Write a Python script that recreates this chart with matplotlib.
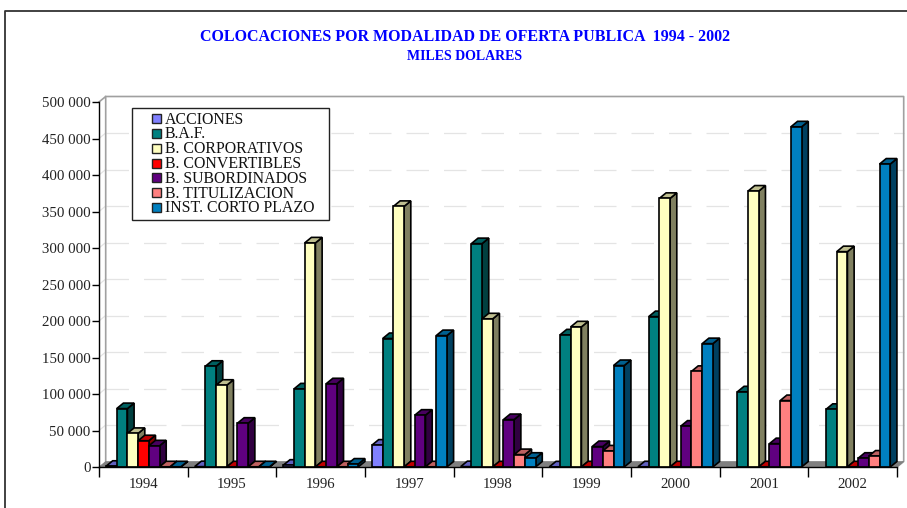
import matplotlib
matplotlib.use("Agg")
import matplotlib.pyplot as plt
from matplotlib.patches import Polygon, Rectangle
from matplotlib.lines import Line2D
from matplotlib.ticker import FuncFormatter

plt.rcParams['font.family'] = ['Liberation Serif', 'DejaVu Serif']

years = ['1994', '1995', '1996', '1997', '1998', '1999', '2000', '2001', '2002']
series_names = ['ACCIONES', 'B.A.F.', 'B. CORPORATIVOS', 'B. CONVERTIBLES',
                'B. SUBORDINADOS', 'B. TITULIZACION', 'INST. CORTO PLAZO']
acciones = [1000, 500, 2500, 30000, 500, 200, 300, None, None]
baf = [80000, 138000, 107000, 176000, 306000, 181000, 206000, 103000, 79000]
corporativos = [46000, 112000, 307000, 357000, 203000, 192000, 368000, 378000, 295000]
convertibles = [36000, 300, 300, 300, 300, 300, 300, 300, 300]
subordinados = [29000, 60000, 114000, 71000, 65000, 28000, 56000, 32000, 12000]
titulizacion = [300, 300, 300, 300, 17000, 22000, 131000, 91000, 15000]
corto_plazo = [300, 300, 4000, 180000, 12000, 139000, 169000, 466000, 415000]
all_series = [acciones, baf, corporativos, convertibles, subordinados, titulizacion, corto_plazo]

front = ['#8080FF', '#008080', '#FFFFC0', '#FF0000', '#600080', '#FF8080', '#0080C0']
top = ['#6060BF', '#006060', '#BFBF90', '#BF0000', '#480060', '#BF6060', '#006090']
side = ['#404080', '#004040', '#808060', '#800000', '#300040', '#804040', '#004060']

W, H = 907, 508
X0, X1, Y0, Y1 = 99, 897, 467, 102
fig = plt.figure(figsize=(W / 100, H / 100), dpi=100, facecolor='white')
ax = fig.add_axes([X0 / W, 1 - Y0 / H, (X1 - X0) / W, (Y0 - Y1) / H])
ax.set_xlim(0, 9)
ax.set_ylim(0, 500000)
ax.patch.set_visible(False)

ddx = 6.7 * 9 / (X1 - X0)
ddy = 5.5 * 500000 / (Y0 - Y1)

# outer frame
fig.add_artist(Line2D([5 / W, 5 / W, 1], [0, 1 - 11 / H, 1 - 11 / H], color='#333333', lw=1.3))

# gridlines on the back and side walls
yticks = list(range(0, 500001, 50000))
for v in yticks[1:-1]:
    ax.plot([ddx, 9 + ddx], [v + ddy, v + ddy], color='#e4e4e4', lw=0.9, clip_on=False, zorder=1,
            linestyle=(0, (18, 12)))
    ax.plot([0, ddx], [v, v + ddy], color='#e4e4e4', lw=0.9, clip_on=False, zorder=1)
# walls
ax.plot([0, ddx, ddx], [500000, 500000 + ddy, ddy], color='#a0a0a0', lw=1.2, clip_on=False, zorder=1.5)
ax.plot([ddx, 9 + ddx, 9 + ddx, 9], [500000 + ddy, 500000 + ddy, ddy, 0], color='#a0a0a0', lw=1.2, clip_on=False, zorder=1.5)
# floor
ax.add_patch(Polygon([(0, 0), (9, 0), (9 + ddx, ddy), (ddx, ddy)], closed=True,
                     fc='#808080', ec='#808080', lw=0.5, clip_on=False, zorder=2))

# bars
bw = 10.7 * 9 / (X1 - X0)
off = 7 * 9 / (X1 - X0)
z = 3.0
for g in range(len(years)):
    for s, vals in enumerate(all_series):
        v = vals[g]
        if v is None:
            continue
        x0 = g + off + s * bw
        x1 = x0 + bw
        kw = dict(closed=True, ec='black', lw=1.2, clip_on=False, joinstyle='miter')
        ax.add_patch(Polygon([(x1, 0), (x1 + ddx, ddy), (x1 + ddx, v + ddy), (x1, v)], fc=side[s], zorder=z, **kw))
        ax.add_patch(Polygon([(x0, v), (x1, v), (x1 + ddx, v + ddy), (x0 + ddx, v + ddy)], fc=top[s], zorder=z, **kw))
        ax.add_patch(Polygon([(x0, 0), (x1, 0), (x1, v), (x0, v)], fc=front[s], zorder=z, **kw))
        z += 0.01

# axes
for name in ['top', 'right']:
    ax.spines[name].set_visible(False)
for name in ['left', 'bottom']:
    ax.spines[name].set_color('black')
    ax.spines[name].set_linewidth(1.0)
    ax.spines[name].set_zorder(20)
ax.set_yticks(yticks)
ax.yaxis.set_major_formatter(FuncFormatter(lambda v, p: f'{int(v):,}'.replace(',', ' ')))
ax.set_xticks(range(10))
ax.set_xticklabels([])
ax.set_xticks([i + 0.5 for i in range(9)], minor=True)
ax.set_xticklabels(years, minor=True)
ax.tick_params(axis='x', which='major', length=7, width=1, color='black')
ax.tick_params(axis='x', which='minor', length=0, pad=8, labelsize=10.7, labelcolor='#222222')
ax.tick_params(axis='y', length=5, width=1, pad=1, labelsize=10.7, labelcolor='#222222')

# titles
fig.text(465 / W, 1 - 37 / H, 'COLOCACIONES POR MODALIDAD DE OFERTA PUBLICA  1994 - 2002',
         color='#0000FF', fontweight='bold', fontsize=11.5, ha='center', va='center')
fig.text(465 / W, 1 - 56 / H, 'MILES DOLARES', color='#0000FF', fontweight='bold',
         fontsize=10, ha='center', va='center')

# legend
fig.add_artist(Rectangle((132 / W, 1 - 220 / H), 197 / W, 112 / H, transform=fig.transFigure,
                         fc='white', ec='#222222', lw=1.0, zorder=30))
for i, (name, color) in enumerate(zip(series_names, front)):
    yc = 118.6 + i * 14.8
    fig.add_artist(Rectangle((151.5 / W, 1 - (yc + 4.5) / H), 9 / W, 9 / H, transform=fig.transFigure,
                             fc=color, ec='#222222', lw=1.0, zorder=31))
    fig.text(165 / W, 1 - (yc + 1) / H, name, fontsize=11.4, color='#111111', ha='left',
             va='center', zorder=31)

fig.savefig('out.png', dpi=100)
